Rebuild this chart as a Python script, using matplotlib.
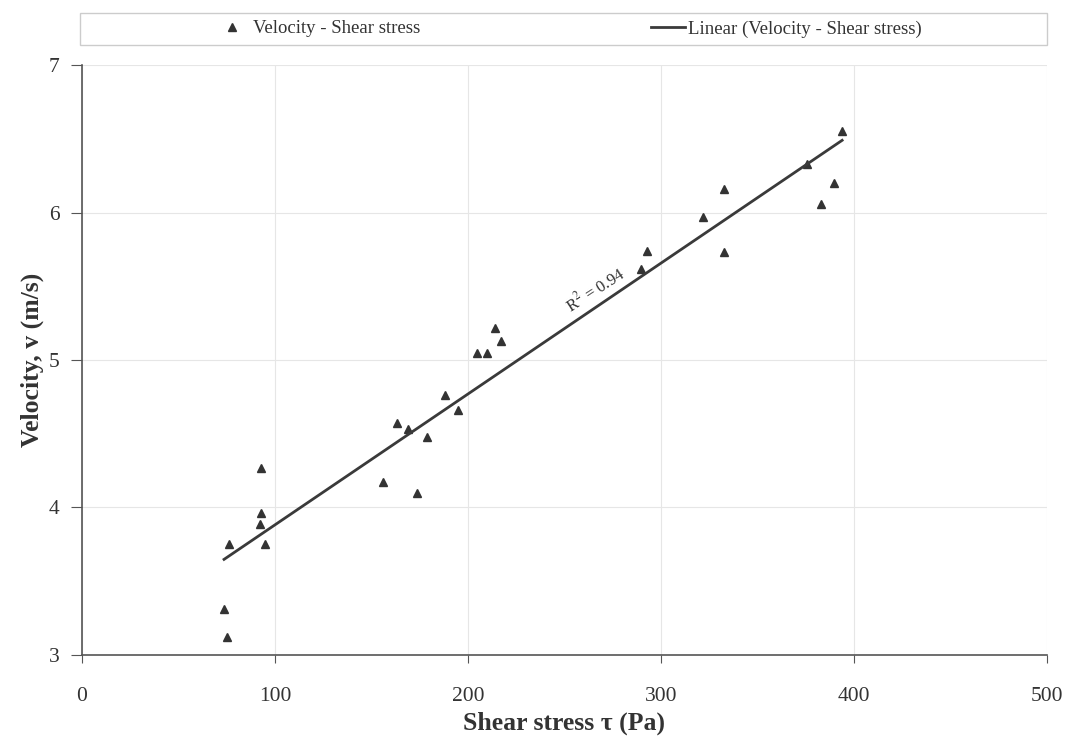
import numpy as np
import matplotlib
matplotlib.use("Agg")
import matplotlib.pyplot as plt
from matplotlib.patches import Rectangle

# shear stress (Pa) and velocity (m/s)
shear_stress = [73.6, 75.1, 76.2, 92.7, 92.7, 92.2, 94.8, 156, 163, 169, 173.6,
                179, 188, 194.8, 204.7, 210, 214, 217, 289.6, 293, 322, 332.6,
                332.6, 376, 383, 390, 394]
velocity = [3.31, 3.12, 3.75, 4.27, 3.96, 3.89, 3.75, 4.17, 4.57, 4.53, 4.10,
            4.48, 4.76, 4.66, 5.05, 5.05, 5.22, 5.13, 5.62, 5.74, 5.97, 6.16,
            5.73, 6.33, 6.06, 6.20, 6.55]
r2_label = "R$^2$ = 0.94"

plt.rcParams["font.family"] = ["Liberation Serif", "DejaVu Serif"]
plt.rcParams["mathtext.fontset"] = "stix"

fig = plt.figure(figsize=(10.67, 7.40), dpi=100)
ax = fig.add_axes([0.0769, 0.115, 0.904, 0.797])

x = np.array(shear_stress)
y = np.array(velocity)
slope, intercept = np.polyfit(x, y, 1)
xfit = np.array([x.min(), x.max()])

ax.plot(x, y, linestyle="none", marker="^", markersize=6, color="#333333",
        label="Velocity - Shear stress")
ax.plot(xfit, slope * xfit + intercept, color="#3a3a3a", linewidth=2,
        label="Linear (Velocity - Shear stress)")

ax.text(253, slope * 253 + intercept + 0.08, r2_label, rotation=33,
        rotation_mode="anchor", fontsize=12, color="#333333")

ax.set_xlim(0, 500)
ax.set_ylim(3, 7)
ax.set_xticks(range(0, 501, 100))
ax.set_yticks(range(3, 8))
ax.grid(True, color="#e6e6e6", linewidth=0.8)
ax.set_axisbelow(True)

for side in ["top", "right"]:
    ax.spines[side].set_visible(False)
for side in ["left", "bottom"]:
    ax.spines[side].set_color("#555555")
    ax.spines[side].set_linewidth(1.2)
ax.tick_params(axis="x", direction="out", length=6, color="#555555",
               labelsize=15.5, labelcolor="#333333", pad=17)
ax.tick_params(axis="y", direction="out", length=8, color="#555555",
               labelsize=15.5, labelcolor="#333333", pad=8)

ax.set_xlabel("Shear stress τ (Pa)", fontsize=18.5, fontweight="bold",
              color="#333333", labelpad=4)
ax.set_ylabel("Velocity, v (m/s)", fontsize=18.5, fontweight="bold",
              color="#333333", labelpad=4)

# legend strip across the top
fig.patches.append(Rectangle((0.075, 0.939), 0.906, 0.044,
                             transform=fig.transFigure, facecolor="white",
                             edgecolor="#cccccc", linewidth=1))
leg = fig.legend(loc="center", bbox_to_anchor=(0.533, 0.961), ncol=2,
                 fontsize=13.5, frameon=False, handlelength=1.8,
                 handletextpad=0.2, columnspacing=12.3, borderaxespad=0)
for t in leg.get_texts():
    t.set_color("#333333")

fig.savefig("out.png", dpi=100)
